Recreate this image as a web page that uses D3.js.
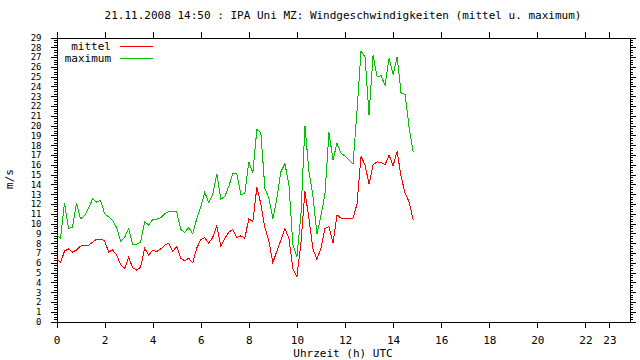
<!DOCTYPE html>
<html>
<head>
<meta charset="utf-8">
<script src="https://cdn.jsdelivr.net/npm/d3@7"></script>
<style>
body{margin:0;background:#fff}
text{font-family:"DejaVu Sans Mono",monospace;font-size:11px;fill:#000}
</style>
</head>
<body>
<div id="chart"></div>
<script>
// 10-Minuten-Werte ab 00:00 UTC
var startHour = 0
var stepMin = 10
var mittel = [6.45,6.0,7.2,7.4,7.1,7.3,7.7,7.75,7.8,8.1,8.4,8.4,8.25,7.1,7.3,6.8,5.8,
  5.4,6.55,5.5,5.25,5.55,7.5,6.8,7.25,7.15,7.4,7.8,8.0,7.15,7.65,6.45,6.2,6.45,6.0,7.5,
  8.35,8.55,8.0,8.6,9.8,7.7,8.5,9.1,9.4,8.55,8.75,8.5,
  10.5,10.2,13.7,12.0,9.6,8.2,6.0,7.2,8.3,9.5,8.5,5.4,4.6,
  8.0,13.3,10.5,7.4,6.35,7.5,9.5,9.7,8.0,10.9,10.55,10.55,10.55,10.55,12.0,
  16.85,16.0,14.0,16.0,16.3,16.25,16.0,17.0,15.9,17.35,14.8,13.1,12.2,10.4]
var maximum = [8.85,8.5,12.1,9.5,9.6,12.1,10.5,10.8,11.6,12.5,12.2,12.4,11.0,10.7,10.3,9.6,8.2,
  8.6,9.5,7.9,7.9,8.1,10.2,9.85,10.4,10.45,10.6,11.0,11.2,11.2,11.2,9.4,9.1,9.6,8.95,10.5,
  11.7,13.2,12.15,12.95,15.1,12.5,12.75,13.8,15.1,15.1,12.95,13.1,
  16.3,15.2,19.6,19.3,13.6,12.6,10.5,12.6,15.3,16.1,14.0,7.8,6.6,
  10.9,20.0,15.3,12.8,8.9,10.8,13.0,19.3,16.5,18.2,17.2,16.9,16.5,16.1,21.5,
  27.6,27.0,21.1,27.2,25.0,25.1,24.1,26.9,25.2,27.0,23.3,23.2,19.8,17.3]
var xTicks = [0,2,4,6,8,10,12,14,16,18,20,22,23]
var yTicks = d3.range(0,30)
var series = [
  {name:'mittel', values:mittel, color:'#ff0000'},
  {name:'maximum', values:maximum, color:'#00c000'}
]
var title = '21.11.2008 14:50 : IPA Uni MZ: Windgeschwindigkeiten (mittel u. maximum)'

var width = 640, height = 360
var svg = d3.select('#chart').append('svg')
  .attr('width',width)
  .attr('height',height)

var x = d3.scaleLinear().domain([0,23+50/60]).range([56.5,629.5])
var y = d3.scaleLinear().domain([0,29]).range([321.5,37.5])

function hour(i){ return startHour + i*stepMin/60 }

// achsen
var minor = d3.range(0,29.01,0.25)
svg.append('g').attr('transform','translate(56.5,0)')
  .call(d3.axisLeft(y).tickValues(minor).tickFormat('').tickSize(3).tickSizeOuter(0))
var yax = svg.append('g').attr('transform','translate(56.5,0)')
  .call(d3.axisLeft(y).tickValues(yTicks).tickFormat(d3.format('d')).tickSize(6).tickPadding(9).tickSizeOuter(0))
svg.append('g').attr('transform','translate(629.5,0)')
  .call(d3.axisRight(y).tickValues(minor).tickFormat('').tickSize(3).tickSizeOuter(0))
svg.append('g').attr('transform','translate(629.5,0)')
  .call(d3.axisRight(y).tickValues(yTicks).tickFormat('').tickSize(6).tickSizeOuter(0))
svg.append('g').attr('transform','translate(0,321.5)')
  .call(d3.axisBottom(x).tickValues(xTicks).tickSize(6).tickPadding(9).tickSizeOuter(0))
svg.append('g').attr('transform','translate(0,37.5)')
  .call(d3.axisTop(x).tickValues(xTicks).tickFormat('').tickSize(6).tickSizeOuter(0))

svg.selectAll('.domain,.tick line').attr('stroke','#000').attr('shape-rendering','crispEdges')
svg.selectAll('.tick text').style('font-family','"DejaVu Sans Mono",monospace').style('font-size','11px').attr('fill','#000')
yax.selectAll('.tick text').style('font-size','9px')

// linien
var line = d3.line()
  .x(function(d,i){return x(hour(i))})
  .y(function(d){return y(d)})
svg.selectAll('.series')
  .data(series)
  .enter()
  .append('path')
  .attr('class','series')
  .attr('d',function(d){return line(d.values)})
  .attr('fill','none')
  .attr('stroke',function(d){return d.color})
  .attr('stroke-width',1)
  .attr('shape-rendering','crispEdges')

// legende
var leg = svg.selectAll('.leg').data(series).enter().append('g')
  .attr('class','leg')
  .attr('transform',function(d,i){return 'translate(0,'+(46.5+i*11.5)+')'})
leg.append('text').attr('x',111).attr('dy','0.35em').attr('text-anchor','end').text(function(d){return d.name})
leg.append('line').attr('x1',120).attr('x2',153).attr('y1',0).attr('y2',0)
  .attr('stroke',function(d){return d.color}).attr('shape-rendering','crispEdges')

svg.append('text').attr('x',343).attr('y',19).attr('text-anchor','middle').text(title)
svg.append('text').attr('x',343).attr('y',357).attr('text-anchor','middle').text('Uhrzeit (h) UTC')
svg.append('text').attr('transform','translate(13,179) rotate(-90)').attr('text-anchor','middle').text('m/s')
</script>
</body>
</html>
